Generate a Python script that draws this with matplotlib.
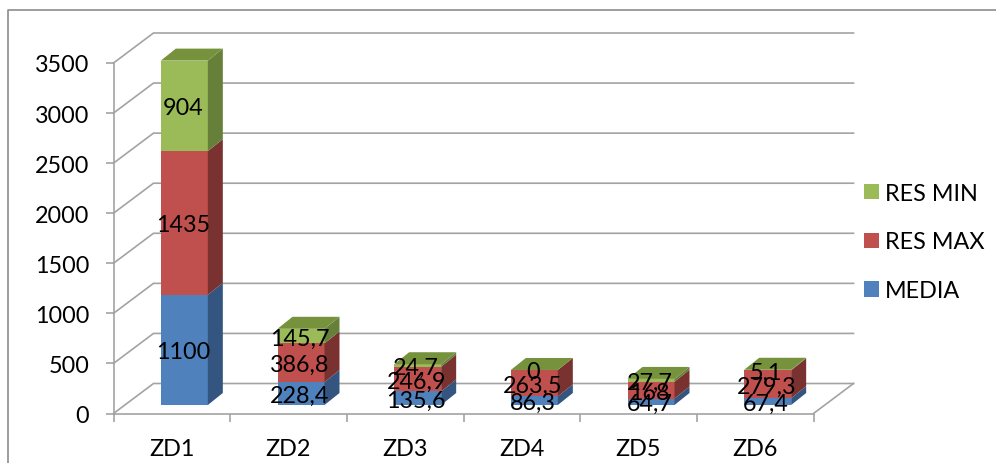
import matplotlib
matplotlib.use("Agg")
import matplotlib.pyplot as plt
from matplotlib.lines import Line2D
from matplotlib.patches import Polygon, Patch

categories = ["ZD1", "ZD2", "ZD3", "ZD4", "ZD5", "ZD6"]
media = [1100, 228.4, 135.6, 86.3, 64.7, 67.4]
res_max = [1435, 386.8, 246.9, 263.5, 168, 279.3]
res_min = [904, 145.7, 24.7, 0, 27.7, 5.1]
y_ticks = [0, 500, 1000, 1500, 2000, 2500, 3000, 3500]

W, H = 996, 464
plt.rcParams['font.family'] = ['Lato', 'DejaVu Sans']
FS = 16.8
GRID = '#a3a3a3'

fig = plt.figure(figsize=(W / 100, H / 100), dpi=100)
L, R, T, B = 113.5, 813.5, 64, 414.5
ax = fig.add_axes([L / W, 1 - B / H, (R - L) / W, (B - T) / H])
ax.set_xlim(0, 6)
ax.set_ylim(0, 3500)
px_x = 6 / (R - L)
px_y = 3500 / (B - T)

# Wall offset (oblique projection) and bar geometry
WX, WY = 40 * px_x, 30 * px_y
BX, BY = 15 * px_x, 12 * px_y
BAR_W = 47 * px_x
BAR_SHIFT = 12.5 * px_x
BAR_LIFT = 8.5 * px_y

for s in ['top', 'right']:
    ax.spines[s].set_visible(False)
for s in ['left', 'bottom']:
    ax.spines[s].set_color(GRID)
    ax.spines[s].set_linewidth(1.2)

ax.set_yticks(y_ticks)
ax.set_yticklabels([str(v) for v in y_ticks], fontsize=FS, color='black')
ax.tick_params(axis='y', length=6, width=1.2, color=GRID, pad=11.5)
ax.set_xticks(range(7))
ax.set_xticklabels([])
ax.tick_params(axis='x', which='major', length=6, width=1.2, color=GRID)
ax.set_xticks([i + 0.5 for i in range(6)], minor=True)
ax.set_xticklabels(categories, minor=True, fontsize=FS, color='black')
ax.tick_params(axis='x', which='minor', length=0, pad=18)

for v in y_ticks:
    ax.plot([0, WX, 6 + WX], [v, v + WY, v + WY], color=GRID, lw=1.2,
            clip_on=False, zorder=1, solid_joinstyle='miter')
ax.plot([6, 6 + WX], [0, WY], color=GRID, lw=1.2, clip_on=False, zorder=1)

series = [
    ('MEDIA', media, '#4f81bd', '#34557f', '#3f6797'),
    ('RES MAX', res_max, '#c0504d', '#7a3230', '#9a403e'),
    ('RES MIN', res_min, '#9bbb59', '#66803a', '#76923c'),
]

for i, cat in enumerate(categories):
    x0 = i + 0.5 + BAR_SHIFT - BAR_W / 2
    x1 = x0 + BAR_W
    base = BAR_LIFT
    for name, vals, front, side, top in series:
        v = vals[i]
        ax.bar(x0, v, width=BAR_W, bottom=base, align='edge', color=front,
               linewidth=0, zorder=3, clip_on=False)
        ax.add_patch(Polygon([(x1, base), (x1 + BX, base + BY),
                              (x1 + BX, base + v + BY), (x1, base + v)],
                             closed=True, fc=side, ec='none', zorder=3, clip_on=False))
        base += v
    ax.add_patch(Polygon([(x0, base), (x1, base), (x1 + BX, base + BY), (x0 + BX, base + BY)],
                         closed=True, fc=series[-1][4], ec='none', zorder=3, clip_on=False))

for i, cat in enumerate(categories):
    base = BAR_LIFT
    for name, vals, front, side, top in series:
        v = vals[i]
        label = f"{v:g}".replace('.', ',')
        ax.text(i + 0.5 + BAR_SHIFT - 1.5 * px_x, base + v / 2, label, ha='center',
                va='center_baseline', fontsize=FS, color='black', zorder=5, clip_on=False)
        base += v

handles = [Patch(facecolor=s[2], edgecolor='none', label=s[0]) for s in reversed(series)]
fig.legend(handles=handles, loc='center left',
           bbox_to_anchor=(864 / W, 1 - 243 / H), frameon=False, fontsize=FS,
           handlelength=0.645, handleheight=0.645, handletextpad=0.25,
           labelspacing=1.19, borderpad=0, borderaxespad=0)

# Outer chart frame: open on the right and at the bottom
fx = lambda p: p / W
fy = lambda p: 1 - p / H
fig.add_artist(Line2D([fx(7.5), fx(7.5), fx(1000)],
                      [fy(470), fy(10.5), fy(10.5)], color='#8c8c8c', lw=1.2))

fig.savefig('out.png', dpi=100)
